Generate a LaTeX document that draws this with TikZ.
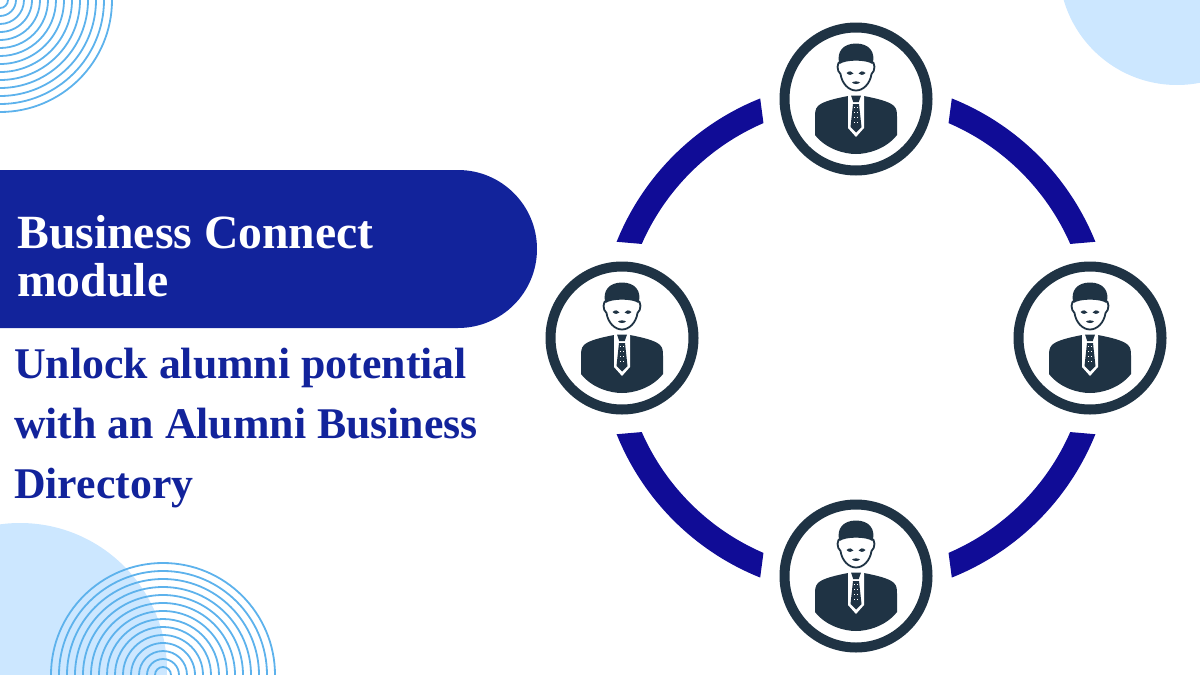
\documentclass[tikz,border=0pt]{standalone}
\usepackage{fontspec}
\setmainfont{Liberation Serif}
\definecolor{bannerblue}{HTML}{12239B}
\definecolor{arcblue}{HTML}{100C96}
\definecolor{icondark}{HTML}{1F3344}
\definecolor{paleblue}{HTML}{CCE7FF}
\definecolor{ringblue}{HTML}{5DB2EC}
\tikzset{
  x=1pt,y=-1pt,
  halo/.style={circle,draw=icondark,line width=10pt,fill=white,minimum size=143pt,inner sep=0pt},
  linkarc/.style={fill=arcblue,draw=none},
  thinring/.style={draw=ringblue,line width=1.8pt},
  person/.pic={
    % face
    \draw[icondark,line width=1.8pt,fill=white] (-15,-38) .. controls (-19.5,-37) and (-19.5,-28) .. (-15.5,-25)
       .. controls (-14,-15) and (-7,-8.5) .. (0,-8.5) .. controls (7,-8.5) and (14,-15) .. (15.5,-25)
       .. controls (19.5,-28) and (19.5,-37) .. (15,-38) .. controls (8,-42) and (-8,-42) .. cycle;
    % hair
    \fill[icondark] (-16.5,-35) .. controls (-20,-47) and (-13,-55.5) .. (0,-55.5) .. controls (13,-55.5) and (20,-47) .. (16.5,-35)
       .. controls (10,-39.5) and (-10,-39.5) .. cycle;
    % eyes and mouth
    \fill[icondark] (-9.5,-26) .. controls (-7,-28.5) and (-3.5,-28) .. (-2.5,-25.5) .. controls (-4.5,-23.5) and (-7,-23.5) .. cycle;
    \fill[icondark] (9.5,-26) .. controls (7,-28.5) and (3.5,-28) .. (2.5,-25.5) .. controls (4.5,-23.5) and (7,-23.5) .. cycle;
    \fill[icondark] (-4,-16.5) .. controls (-2,-18) and (2,-18) .. (4,-16.5) .. controls (2,-14.5) and (-2,-14.5) .. cycle;
    % body
    \fill[icondark] (-8,-3) .. controls (-18,-1) and (-33,2) .. (-38,7) .. controls (-41,10) and (-41,14) .. (-41,18)
      -- (-41,36) .. controls (-30,50) and (-12,55) .. (0,55) .. controls (12,55) and (30,50) .. (41,36)
      -- (41,18) .. controls (41,14) and (41,10) .. (38,7) .. controls (33,2) and (18,-1) .. (8,-3) -- cycle;
    % tie outline
    \fill[white] (-8,-4.5) -- (8,-4.5) -- (8,29) -- (0,38) -- (-8,29) -- cycle;
    % tie
    \fill[icondark] (-5,-3.5) -- (5,-3.5) -- (2.8,3) -- (-2.8,3) -- cycle;
    \fill[icondark] (-3,5) -- (3,5) -- (5.5,28) -- (0,33.5) -- (-5.5,28) -- cycle;
    \foreach \u in {8,13,18,23} {\fill[white] (-1.8,\u) rectangle (-0.6,\u+1.2); \fill[white] (0.8,\u) rectangle (2,\u+1.2);}
  }
}
\begin{document}
\begin{tikzpicture}
\useasboundingbox (0,0) rectangle (1200,675);
\begin{scope}
  \clip (0,0) rectangle (1200,675);
  \fill[paleblue] (1177,-33) circle[radius=118];
  \fill[paleblue] (20,670) circle[radius=147];
  \foreach \r in {8,16,...,112} {\draw[thinring] (163,675) circle[radius=\r];}
  \foreach \r in {8,16,...,112} {\draw[thinring] (0,0) circle[radius=\r];}
\end{scope}
% banner
\fill[bannerblue] (0,170) -- (458,170) arc[start angle=-90,end angle=90,radius=79] -- (0,328) -- cycle;
\node[anchor=west,align=left,text=white,inner sep=0pt,font=\fontsize{47.7}{48}\selectfont\bfseries] (title) at (17,256) {Business Connect\\module};
\node[anchor=west,align=left,text=bannerblue,inner sep=0pt,font=\fontsize{43.8}{60}\selectfont\bfseries] (sub) at (14,428.5) {Unlock alumni potential\\with an Alumni Business\\Directory};
% ring
\coordinate (hub) at (856,338);
\foreach \sx/\sy in {1/1,-1/1,1/-1,-1/-1} {
  \begin{scope}[shift={(hub)},xscale=\sx,yscale=\sy]
    \fill[linkarc] (68.2:258) arc[start angle=68.2,end angle=21.9,radius=258]
      -- (23.7:234) arc[start angle=23.7,end angle=66.7,radius=234] -- cycle;
  \end{scope}
}
\node[halo] (top) at (856,99) {};
\node[halo] (left) at (622,338) {};
\node[halo] (right) at (1090,338) {};
\node[halo] (bottom) at (856,576) {};
\pic at (top.center) {person};
\pic at (left.center) {person};
\pic at (right.center) {person};
\pic at (bottom.center) {person};
\end{tikzpicture}
\end{document}
